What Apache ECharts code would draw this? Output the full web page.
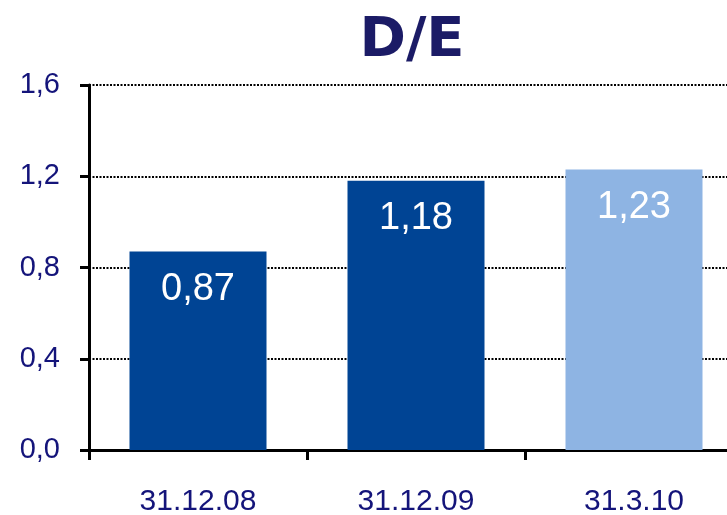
<!DOCTYPE html>
<html>
<head>
<meta charset="utf-8">
<script src="https://cdn.jsdelivr.net/npm/echarts@6/dist/echarts.min.js"></script>
<style>html,body{margin:0;padding:0;background:#fff}#c{width:727px;height:515px}</style>
</head>
<body>
<div id="c"></div>
<script>
const categories = ['31.12.08', '31.12.09', '31.3.10'];
const values = [0.87, 1.18, 1.23];
const barColors = ['#004494', '#004494', '#8eb4e3'];
const yTicks = { min: 0, max: 1.6, interval: 0.4 };

const chart = echarts.init(document.getElementById('c'), null, { renderer: 'canvas' });
const navy = '#14147a';
chart.setOption({
  animation: false,
  title: {
    text: 'D/E', left: 407, top: 8, textAlign: 'center',
    textStyle: { fontFamily: 'DejaVu Sans', fontWeight: 'bold', fontSize: 56, color: '#1b1b66' }
  },
  grid: { left: 89, top: 85, bottom: 65, width: 654, containLabel: false, outerBoundsMode: 'none' },
  xAxis: {
    type: 'category', data: categories,
    axisLine: { lineStyle: { color: '#000', width: 3 } },
    axisTick: { show: true, length: 10, lineStyle: { color: '#000', width: 3 } },
    axisLabel: { margin: 37, fontFamily: 'Liberation Sans', fontSize: 30, color: navy }
  },
  yAxis: {
    type: 'value', min: yTicks.min, max: yTicks.max, interval: yTicks.interval,
    axisLine: { show: true, lineStyle: { color: '#000', width: 3 } },
    axisTick: { show: true, length: 9, lineStyle: { color: '#000', width: 3 } },
    axisLabel: {
      margin: 29, fontFamily: 'Liberation Sans', fontSize: 29, color: navy,
      formatter: v => v.toFixed(1).replace('.', ',')
    },
    splitLine: { show: true, lineStyle: { color: '#000', width: 2, type: [2, 1.5] } }
  },
  series: [{
    type: 'bar',
    barWidth: 137,
    data: values.map((v, i) => ({ value: v, itemStyle: { color: barColors[i] } })),
    label: {
      show: true, position: 'insideTop', distance: 19,
      fontFamily: 'Liberation Sans', fontSize: 38, color: '#fff',
      formatter: p => p.value.toFixed(2).replace('.', ',')
    }
  }]
});
</script>
</body>
</html>
